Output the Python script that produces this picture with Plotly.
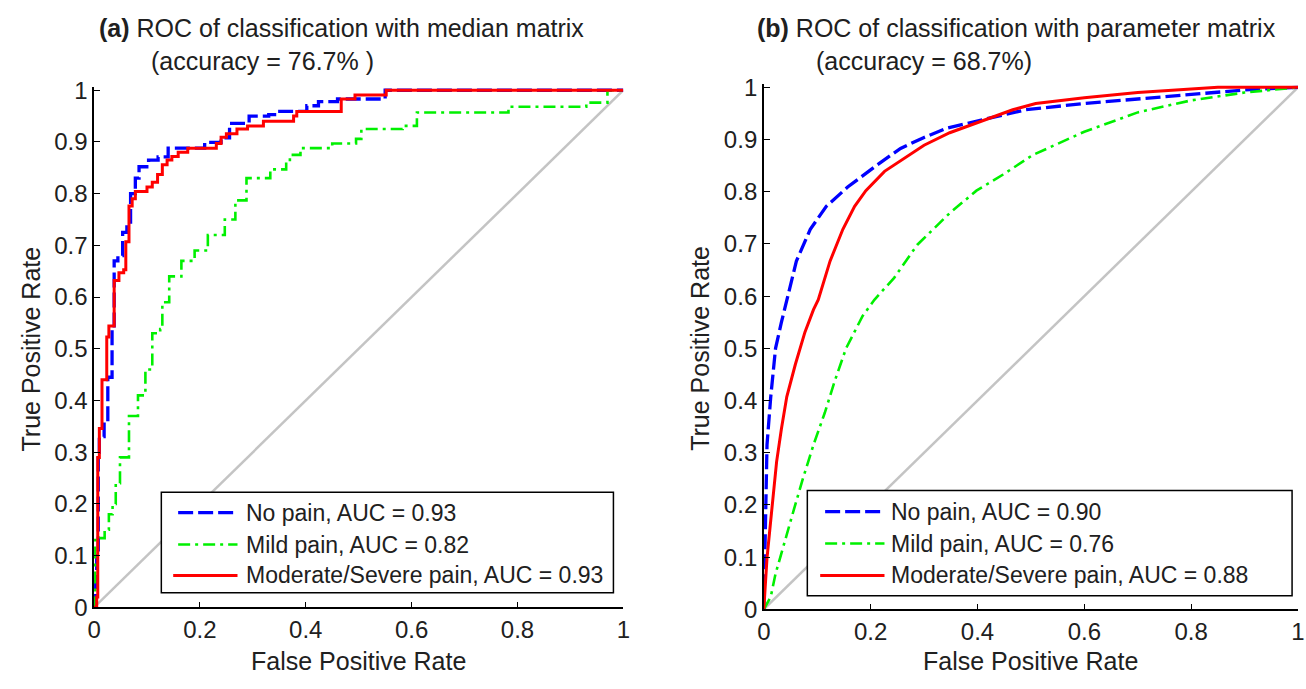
import plotly.graph_objects as go

W, H = 1306, 689

# ---------------- data ----------------
classes = ["No pain", "Mild pain", "Moderate/Severe pain"]
auc_a = [0.93, 0.82, 0.93]
auc_b = [0.90, 0.76, 0.88]
accuracy_a = "76.7% "
accuracy_b = "68.7%"

# Panel (a): step ROC curves, (FPR where the step happens, TPR after the step)
a_no_fpr = [0, 0.003, 0.005, 0.008, 0.010, 0.019, 0.026, 0.034, 0.038, 0.045, 0.054, 0.062, 0.069, 0.078,
            0.085, 0.103, 0.121, 0.140, 0.209, 0.240, 0.256, 0.293, 0.330, 0.345, 0.402, 0.424, 0.460, 0.550, 1.0]
a_no_tpr = [0, 0.05, 0.10, 0.30, 0.33, 0.36, 0.445, 0.54, 0.67, 0.68, 0.725, 0.745, 0.80, 0.83,
            0.852, 0.865, 0.871, 0.888, 0.899, 0.908, 0.936, 0.950, 0.953, 0.959, 0.970, 0.978, 0.983, 1.0, 1.0]

a_mild_fpr = [0, 0.002, 0.011, 0.020, 0.028, 0.035, 0.041, 0.049, 0.066, 0.083, 0.097, 0.110, 0.125, 0.129,
              0.142, 0.165, 0.190, 0.215, 0.247, 0.267, 0.288, 0.333, 0.363, 0.370, 0.390, 0.450, 0.495, 0.505,
              0.583, 0.610, 0.783, 0.930, 0.970, 1.0]
a_mild_tpr = [0, 0.13, 0.134, 0.15, 0.18, 0.20, 0.24, 0.29, 0.37, 0.41, 0.46, 0.53, 0.538, 0.59,
              0.64, 0.67, 0.69, 0.72, 0.75, 0.787, 0.83, 0.847, 0.862, 0.875, 0.888, 0.897, 0.906, 0.925,
              0.931, 0.957, 0.968, 0.976, 1.0, 1.0]

a_mod_fpr = [0, 0.005, 0.007, 0.010, 0.015, 0.024, 0.028, 0.038, 0.047, 0.056, 0.060, 0.066, 0.072, 0.078,
             0.100, 0.110, 0.120, 0.129, 0.138, 0.147, 0.159, 0.177, 0.231, 0.240, 0.250, 0.270, 0.290, 0.320,
             0.377, 0.383, 0.467, 0.493, 0.552, 1.0]
a_mod_tpr = [0, 0.02, 0.29, 0.346, 0.44, 0.523, 0.544, 0.632, 0.647, 0.653, 0.707, 0.776, 0.79, 0.804,
             0.813, 0.822, 0.837, 0.856, 0.865, 0.872, 0.880, 0.888, 0.897, 0.909, 0.916, 0.925, 0.931, 0.940,
             0.950, 0.959, 0.983, 0.991, 1.0, 1.0]

# Panel (b): dense ROC curves
b_no_fpr = [0, 0.001, 0.002, 0.004, 0.006, 0.013, 0.022, 0.033, 0.045, 0.061, 0.087, 0.117, 0.157, 0.213,
            0.256, 0.300, 0.343, 0.410, 0.490, 0.600, 0.700, 0.800, 0.900, 1.0]
b_no_tpr = [0, 0.06, 0.16, 0.22, 0.315, 0.407, 0.50, 0.55, 0.60, 0.667, 0.728, 0.772, 0.809, 0.852,
            0.883, 0.904, 0.922, 0.938, 0.957, 0.969, 0.978, 0.987, 0.995, 1.0]

b_mild_fpr = [0, 0.013, 0.022, 0.040, 0.056, 0.074, 0.093, 0.114, 0.133, 0.154, 0.185, 0.207, 0.244, 0.287,
              0.348, 0.398, 0.448, 0.503, 0.600, 0.700, 0.800, 0.900, 1.0]
b_mild_tpr = [0, 0.024, 0.068, 0.13, 0.19, 0.253, 0.315, 0.376, 0.438, 0.50, 0.562, 0.593, 0.635, 0.698,
              0.759, 0.802, 0.833, 0.870, 0.915, 0.952, 0.975, 0.990, 1.0]

b_mod_fpr = [0, 0.006, 0.015, 0.024, 0.033, 0.043, 0.059, 0.077, 0.093, 0.102, 0.124, 0.148, 0.170, 0.191,
             0.226, 0.263, 0.300, 0.348, 0.417, 0.466, 0.509, 0.600, 0.700, 0.800, 0.850, 1.0]
b_mod_tpr = [0, 0.098, 0.191, 0.283, 0.346, 0.407, 0.469, 0.531, 0.574, 0.593, 0.667, 0.728, 0.772, 0.802,
             0.839, 0.864, 0.889, 0.913, 0.938, 0.957, 0.969, 0.980, 0.990, 0.997, 1.0, 1.0]

chance = [0, 1]
x_ticks = [0, 0.2, 0.4, 0.6, 0.8, 1]
y_ticks = [0, 0.1, 0.2, 0.3, 0.4, 0.5, 0.6, 0.7, 0.8, 0.9, 1]

# ---------------- styling ----------------
FONT = "Liberation Sans, Arial, sans-serif"
TXT = "#202020"
colors = ["#0000ff", "#00f000", "#ff0000"]
dashes = ["15px,5px", "12px,5px,3px,5px", "solid"]
widths = [3.3, 2.6, 3]
Y_TOP = 1.006   # small headroom so the TPR = 1 segments are not clipped

def px(x):
    return x / W

def py(y):
    return 1 - y / H

# plot area pixel boxes (left, right, top(y=1), bottom(y=0))
A = dict(l=88, r=623, t=83, b=618)
B = dict(l=765, r=1305, t=80, b=620)

fig = go.Figure()

panels = [
    ("x", "y", [(a_no_fpr, a_no_tpr), (a_mild_fpr, a_mild_tpr), (a_mod_fpr, a_mod_tpr)], "hv"),
    ("x2", "y2", [(b_no_fpr, b_no_tpr), (b_mild_fpr, b_mild_tpr), (b_mod_fpr, b_mod_tpr)], "linear"),
]
for xa, ya, curves, shape in panels:
    fig.add_trace(go.Scatter(x=chance, y=chance, mode="lines", xaxis=xa, yaxis=ya,
                             line=dict(color="#c4c4c4", width=2.5), showlegend=False, hoverinfo="skip"))
    for i, (fx, ty) in enumerate(curves):
        fig.add_trace(go.Scatter(x=fx, y=ty, mode="lines", xaxis=xa, yaxis=ya, name=classes[i],
                                 line=dict(color=colors[i], width=widths[i], dash=dashes[i], shape=shape),
                                 showlegend=False))

axis_common = dict(showline=True, linecolor="black", linewidth=1.5, mirror=False,
                   ticks="inside", ticklen=6, tickwidth=1.3, tickcolor="black", showgrid=False,
                   zeroline=False, tickfont=dict(family=FONT, size=24, color=TXT), fixedrange=True)

def ydom(box):
    top = box["t"] - (Y_TOP - 1) * (box["b"] - box["t"])
    return [py(box["b"]), py(top)]

fig.update_layout(
    width=W, height=H, margin=dict(l=0, r=0, t=0, b=0),
    paper_bgcolor="white", plot_bgcolor="white", showlegend=False,
    xaxis=dict(domain=[px(A["l"]), px(A["r"])], anchor="y", range=[0, 1], tickvals=x_ticks, **axis_common),
    yaxis=dict(domain=ydom(A), anchor="x", range=[0, Y_TOP], tickvals=y_ticks, **axis_common),
    xaxis2=dict(domain=[px(B["l"]), px(B["r"])], anchor="y2", range=[0, 1], tickvals=x_ticks, **axis_common),
    yaxis2=dict(domain=ydom(B), anchor="x2", range=[0, Y_TOP], tickvals=y_ticks, **axis_common),
)

annotations = []
shapes = []

def text(x, y, s, size=23, xanchor="left", angle=0):
    annotations.append(dict(x=px(x), y=py(y), xref="paper", yref="paper", text=s, showarrow=False,
                            xanchor=xanchor, yanchor="middle", textangle=angle,
                            font=dict(family=FONT, size=size, color=TXT)))

# titles
text(91, 19, "<b>(a)</b> ROC of classification with median matrix", size=25)
text(144, 53, "(accuracy = " + accuracy_a + ")", size=25)
text(756, 19, "<b>(b)</b> ROC of classification with parameter matrix", size=25)
text(816, 53, "(accuracy = " + accuracy_b + ")", size=25)

# axis titles
for box in (A, B):
    cx = (box["l"] + box["r"]) / 2
    cy = (box["t"] + box["b"]) / 2
    text(cx, 673, "False Positive Rate", size=25, xanchor="center")
    text(box["l"] - 64, cy, "True Positive Rate", size=25, xanchor="center", angle=-90)

# legends (MATLAB style boxes)
legends = [
    (dict(l=156, r=613, t=499, b=603), 173, 233, 240, [520, 553, 585], auc_a),
    (dict(l=809, r=1299, t=497, b=606), 827, 887, 892, [519, 552, 585], auc_b),
]
for box, s0, s1, tx, rows, aucs in legends:
    shapes.append(dict(type="rect", xref="paper", yref="paper",
                       x0=px(box["l"]), x1=px(box["r"]), y0=py(box["b"]), y1=py(box["t"]),
                       line=dict(color="black", width=1.5), fillcolor="white", layer="above"))
    for i, ry in enumerate(rows):
        x0 = s0 - (5 if i == 2 else 0)
        shapes.append(dict(type="line", xref="paper", yref="paper",
                           x0=px(x0), x1=px(s1), y0=py(ry), y1=py(ry),
                           line=dict(color=colors[i], width=widths[i], dash=dashes[i]), layer="above"))
        text(tx, ry, f"{classes[i]}, AUC = {aucs[i]:.2f}")

fig.update_layout(annotations=annotations, shapes=shapes)

fig.write_html("out.html")
